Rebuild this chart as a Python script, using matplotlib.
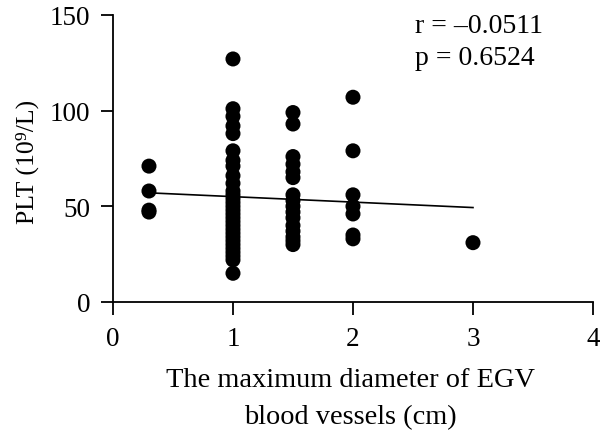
import numpy as np
import matplotlib.pyplot as plt

plt.rcParams['font.family'] = ['Liberation Serif', 'DejaVu Serif']

# maximum diameter of EGV (cm) and PLT (10^9/L)
x03 = [0.3, 0.3, 0.3, 0.3]
y03 = [71, 58, 48, 47]
x10 = [1.0] * 30
y10 = [127, 101, 97, 92, 88, 79, 74, 71, 66, 62, 58, 56, 54, 52, 50,
       48, 46, 44, 42, 40, 38, 36, 34, 32, 30, 28, 26, 24, 22, 15]
x15 = [1.5] * 16
y15 = [99, 93, 76, 72, 68, 65, 56, 53, 50, 47, 44, 40, 37, 34, 32, 30]
x20 = [2.0] * 7
y20 = [107, 79, 56, 50, 46, 35, 33]
x30 = [3.0]
y30 = [31]

diam = np.array(x03 + x10 + x15 + x20 + x30)
plt_vals = np.array(y03 + y10 + y15 + y20 + y30)

# fitted line as drawn
fit_intercept = 57.9
fit_slope = -2.85
fit_x = np.array([0.3, 3.0])

fig = plt.figure(figsize=(6, 4.31), dpi=100)
ax = fig.add_axes([0.1883, 0.297, 0.8, 0.666])

ax.scatter(diam, plt_vals, s=117, color='black', edgecolors='none', zorder=3, clip_on=False)
ax.plot(fit_x, fit_intercept + fit_slope * fit_x, color='black', lw=1.2)

ax.set_xlim(0, 4)
ax.set_ylim(0, 150)
ax.set_xticks([0, 1, 2, 3, 4])
ax.set_yticks([0, 50, 100, 150])
ax.spines['top'].set_visible(False)
ax.spines['right'].set_visible(False)
ax.spines['left'].set_linewidth(1.3)
ax.spines['bottom'].set_linewidth(1.3)
ax.tick_params(direction='out', length=9, width=1.3, labelsize=19.5)
ax.tick_params(axis='y', pad=7.5)
ax.tick_params(axis='x', pad=8)

ax.set_ylabel('PLT (10\u2079/L)', fontsize=18.5)
ax.yaxis.set_label_coords(-0.155, 0.49)
ax.set_xlabel('The maximum diameter of EGV\nblood vessels (cm)', fontsize=20.4,
              linespacing=1.65)
ax.xaxis.set_label_coords(0.495, -0.225)

ax.text(2.52, 141, 'r = \u20130.0511', fontsize=20, va='baseline')
ax.text(2.52, 124.4, 'p = 0.6524', fontsize=20, va='baseline')

fig.savefig('out.png', dpi=100)
